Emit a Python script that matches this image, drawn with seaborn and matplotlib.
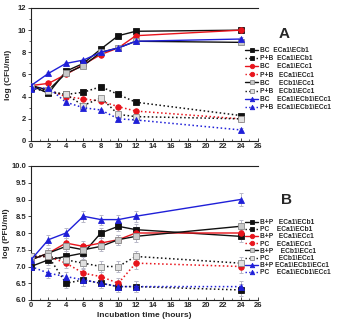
import numpy as np
import pandas as pd
import matplotlib
matplotlib.use("Agg")
import matplotlib.pyplot as plt
from matplotlib.lines import Line2D
import seaborn as sns

sns.set_style("ticks")
plt.rcParams["font.family"] = ["Liberation Sans", "DejaVu Sans"]
plt.rcParams["font.weight"] = "bold"

hours = [0, 2, 4, 6, 8, 10, 12, 24]

# Panel A: bacterial counts, log(CFU/ml)
a_bc_ab = [5.0, 4.3, 6.3, 7.0, 8.3, 9.5, 9.9, 10.0]
a_pb_ab = [4.8, 4.4, 4.2, 4.4, 4.9, 4.2, 3.5, 2.3]
a_bc_ac = [5.0, 5.2, 6.0, 6.9, 7.8, 8.4, 9.5, 10.0]
a_pb_ac = [5.0, 4.6, 4.0, 3.8, 3.6, 3.1, 2.7, 2.0]
a_bc_bc = [5.0, 4.6, 6.1, 6.8, 8.0, 8.4, 9.0, 8.9]
a_pb_bc = [5.0, 4.5, 4.2, 3.2, 3.9, 2.4, 2.2, 2.0]
a_bc_abc = [5.0, 6.1, 7.0, 7.3, 8.0, 8.4, 9.0, 9.2]
a_pb_abc = [4.7, 4.8, 3.5, 3.0, 2.8, 2.0, 1.9, 1.0]
err_a = [0.1, 0.1, 0.12, 0.12, 0.12, 0.15, 0.12, 0.15]

# Panel B: phage titres, log(PFU/ml)
b_bp_ab = [7.0, 7.2, 7.3, 7.4, 8.0, 8.2, 8.1, 7.9]
b_pc_ab = [7.3, 7.3, 6.5, 6.6, 6.5, 6.4, 6.4, 6.3]
b_bp_ac = [7.2, 7.4, 7.7, 7.6, 7.7, 7.8, 8.0, 8.0]
b_pc_ac = [7.3, 7.3, 7.1, 6.8, 6.7, 6.5, 7.1, 7.0]
b_bp_bc = [7.2, 7.4, 7.6, 7.5, 7.6, 7.8, 7.9, 8.2]
b_pc_bc = [7.3, 7.3, 7.2, 7.1, 7.0, 7.0, 7.3, 7.1]
b_bp_abc = [7.2, 7.8, 8.0, 8.5, 8.4, 8.4, 8.5, 9.0]
b_pc_abc = [7.0, 6.8, 6.7, 6.6, 6.5, 6.4, 6.4, 6.4]
err_b = [0.1, 0.15, 0.15, 0.17, 0.15, 0.15, 0.17, 0.18]

labels_a = ["BC  ECa1\\ECb1", "P+B  ECa1\\ECb1", "BC    ECa1\\ECc1", "P+B   ECa1\\ECc1",
            "BC     ECb1\\ECc1", "P+B   ECb1\\ECc1", "BC    ECa1\\ECb1\\ECc1", "P+B  ECa1\\ECb1\\ECc1"]
labels_b = ["B+P   ECa1\\ECb1", "PC    ECa1\\ECb1", "B+P   ECa1\\ECc1", "PC    ECa1\\ECc1",
            "B+P    ECb1\\ECc1", "PC     ECb1\\ECc1", "B+P ECa1\\ECb1\\ECc1", "PC    ECa1\\ECb1\\ECc1"]

BLACK, RED, BLUE, GRAY = "#111111", "#e8141c", "#1f1fd8", "#8a8a8a"

# (line colour, marker, marker face, marker edge, linestyle)
styles = [
    (BLACK, "s", BLACK, BLACK, "-"),
    (BLACK, "s", BLACK, BLACK, ":"),
    (RED, "o", RED, RED, "-"),
    (RED, "o", RED, RED, ":"),
    (BLACK, "s", "#c8c8c8", GRAY, "-"),
    (BLACK, "s", "#e0e0e0", GRAY, ":"),
    (BLUE, "^", BLUE, BLUE, "-"),
    (BLUE, "^", BLUE, BLUE, ":"),
]

fig = plt.figure(figsize=(3.47, 3.23), dpi=100)
ax_a = fig.add_axes([31 / 347, 1 - 141 / 323, 227 / 347, 133 / 323])
ax_b = fig.add_axes([31 / 347, 1 - 300 / 323, 227 / 347, 134 / 323])


def draw_panel(ax, series, labels, err):
    for vals, lab, (lc, mk, mf, me, ls) in zip(series, labels, styles):
        df = pd.DataFrame({"t": hours, "v": vals})
        ax.errorbar(hours, vals, yerr=err, fmt="none", ecolor="#b8b8c8",
                    elinewidth=0.7, capsize=1.5, capthick=0.7, zorder=1)
        sns.lineplot(data=df, x="t", y="v", ax=ax, color=lc, linestyle=ls,
                     linewidth=1.0 if ls == "-" else 1.1, marker=mk, markersize=4,
                     markerfacecolor=mf, markeredgecolor=me, markeredgewidth=0.6,
                     zorder=3, label=lab, legend=False)
    ax.set_xlim(0, 26)
    ax.set_xticks(range(0, 27, 2))
    ax.set_xticks(range(1, 26, 2), minor=True)
    ax.tick_params(axis="x", direction="in", length=2.5, width=0.6, labelsize=5.5, pad=1.5)
    ax.tick_params(axis="x", which="minor", direction="in", length=1.5, width=0.5)
    ax.tick_params(axis="y", direction="out", length=2.5, width=0.6, labelsize=5.5, pad=1)
    ax.tick_params(axis="y", which="minor", direction="out", length=1.5, width=0.5)
    for s in ["left", "bottom", "top"]:
        ax.spines[s].set_linewidth(0.8)
        ax.spines[s].set_color("#222222")
    ax.spines["right"].set_visible(False)
    ax.set_xlabel("")
    ax.grid(False)


def legend_handles(labels):
    hs = []
    for lab, (lc, mk, mf, me, ls) in zip(labels, styles):
        hs.append(Line2D([], [], color=lc, linestyle=ls, linewidth=1.0, marker=mk,
                         markersize=3.2, markerfacecolor=mf, markeredgecolor=me,
                         markeredgewidth=0.6, label=lab))
    return hs


series_a = [a_bc_ab, a_pb_ab, a_bc_ac, a_pb_ac, a_bc_bc, a_pb_bc, a_bc_abc, a_pb_abc]
series_b = [b_bp_ab, b_pc_ab, b_bp_ac, b_pc_ac, b_bp_bc, b_pc_bc, b_bp_abc, b_pc_abc]

draw_panel(ax_a, series_a, labels_a, err_a)
ax_a.set_ylim(0, 12)
ax_a.set_yticks(range(0, 13, 2))
ax_a.set_yticks(range(1, 12, 2), minor=True)
ax_a.set_ylabel("log (CFU/ml)", fontsize=6, fontweight="bold", labelpad=4)

draw_panel(ax_b, series_b, labels_b, err_b)
ax_b.set_ylim(6.0, 10.0)
ax_b.set_yticks(np.arange(6.0, 10.01, 0.5))
ax_b.set_yticklabels([f"{v:.1f}" for v in np.arange(6.0, 10.01, 0.5)])
ax_b.set_ylabel("log (PFU/ml)", fontsize=6, fontweight="bold", labelpad=1)
ax_b.set_xlabel("Incubation time (hours)", fontsize=6, fontweight="bold", labelpad=2)

leg_kw = dict(loc="upper left", frameon=False, fontsize=4.8, handlelength=2.0,
              handletextpad=0.3, borderpad=0, borderaxespad=0)
fig.legend(handles=legend_handles(labels_a), bbox_to_anchor=(245 / 347, 1 - 47 / 323),
           labelspacing=0.18, **leg_kw)
fig.legend(handles=legend_handles(labels_b), bbox_to_anchor=(245 / 347, 1 - 219 / 323),
           labelspacing=0.03, **leg_kw)

fig.text(284 / 347, 1 - 34 / 323, "A", fontsize=11, fontweight="bold", ha="center", va="center")
fig.text(287 / 347, 1 - 200 / 323, "B", fontsize=11, fontweight="bold", ha="center", va="center")

fig.savefig("out.png", dpi=100)
